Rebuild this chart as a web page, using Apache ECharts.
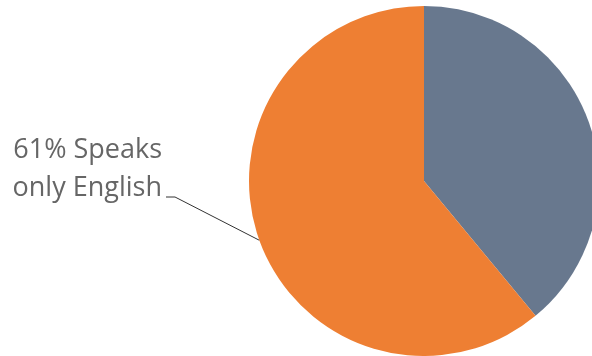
<!DOCTYPE html>
<html>
<head>
<meta charset="utf-8">
<style>html,body{margin:0;padding:0;background:#fff;}#chart{width:592px;height:356px;}</style>
<script src="https://cdn.jsdelivr.net/npm/echarts@6/dist/echarts.min.js"></script>
</head>
<body>
<div id="chart"></div>
<script>
var categories = ['Speaks another language', 'Speaks only English'];
var values = [39, 61];
var labelNames = ['Speaks another\nlanguage', 'Speaks\nonly English'];
var colors = ['#68788E', '#EE7F33'];

var chart = echarts.init(document.getElementById('chart'), null, {renderer: 'canvas'});
var data = categories.map(function (c, i) {
  var item = {name: c, value: values[i], itemStyle: {color: colors[i]}};
  if (i === 0) {
    item.label = {show: false};
    item.labelLine = {show: false};
  }
  return item;
});
chart.setOption({
  animation: false,
  backgroundColor: '#ffffff',
  series: [{
    type: 'pie',
    center: [424, 181],
    radius: 175,
    startAngle: 90,
    clockwise: true,
    data: data,
    label: {
      show: true,
      position: 'outside',
      formatter: function (p) { return p.percent.toFixed(0) + '% ' + labelNames[p.dataIndex]; },
      fontFamily: 'Open Sans',
      fontSize: 27,
      lineHeight: 38,
      color: '#666666'
    },
    labelLine: {show: true, lineStyle: {color: '#333333', width: 1}},
    labelLayout: function (params) {
      if (params.dataIndex !== 1) return {};
      var p0 = params.labelLinePoints ? params.labelLinePoints[0] : [260, 239];
      return {
        x: 162,
        y: 169,
        align: 'right',
        verticalAlign: 'middle',
        labelLinePoints: [p0, [175, 197], [166, 197]]
      };
    }
  }]
});
</script>
</body>
</html>
